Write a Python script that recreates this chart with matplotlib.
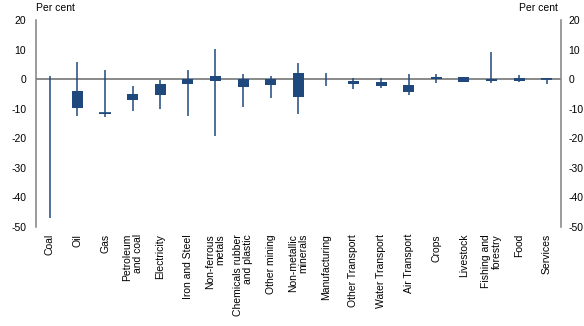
import matplotlib
matplotlib.use("Agg")
import matplotlib.pyplot as plt
import numpy as np

plt.rcParams['font.family'] = ['Liberation Sans', 'DejaVu Sans']
plt.rcParams['axes.unicode_minus'] = False

categories = ["Coal", "Oil", "Gas", "Petroleum\nand coal", "Electricity", "Iron and Steel",
              "Non-ferrous\nmetals", "Chemicals rubber\nand plastic", "Other mining",
              "Non-metallic\nminerals", "Manufacturing", "Other Transport", "Water Transport",
              "Air Transport", "Crops", "Livestock", "Fishing and\nforestry", "Food", "Services"]

whisker_high = [1.2, 5.8, 3.1, -2.3, -0.2, 3.1, 10.3, 1.8, 1.1, 5.5, 2.1, 0.4, 0.4, 1.8, 1.7, 0.9, 9.2, 1.4, 0.4]
whisker_low = [-46.8, -12.3, -12.9, -10.6, -9.9, -12.3, -19.1, -9.3, -6.2, -11.6, -2.4, -3.2, -2.9, -5.3, -1.2, -0.9, -1.2, -0.8, -1.5]
box_high = [0.0, -4.0, -11.3, -5.0, -1.6, 0.0, 1.1, 0.0, 0.0, 2.1, 0.0, -0.6, -0.9, -1.9, 0.9, 0.7, 0.0, 0.4, 0.4]
box_low = [0.0, -9.7, -11.6, -7.0, -5.3, -1.5, -0.5, -2.5, -1.8, -6.0, 0.0, -1.6, -2.3, -4.3, 0.0, -0.8, -0.7, -0.6, 0.0]

yticks = [20, 10, 0, -10, -20, -30, -40, -50]

navy = "#1F497D"
grey = "#808080"

fig = plt.figure(figsize=(5.84, 3.26), dpi=100)
ax = fig.add_axes([36 / 584, 1 - 227 / 326, (560.5 - 36) / 584, (227 - 20.2) / 326])

x = np.arange(len(categories))
ax.vlines(x, whisker_low, whisker_high, color=navy, lw=1.1, zorder=3)
heights = np.array(box_high) - np.array(box_low)
ax.bar(x, heights, bottom=box_low, width=0.4, color=navy, lw=0, zorder=4)
# thin boxes drawn as short lines so they stay visible
for xi, h, lo in zip(x, heights, box_low):
    if 0 < h < 0.5:
        ax.hlines(lo + h / 2, xi - 0.2, xi + 0.2, color=navy, lw=1.2, zorder=4)

ax.axhline(0, color=grey, lw=1.3, zorder=2)

ax.set_xlim(-0.5, len(categories) - 0.5)
ax.set_ylim(-50, 20)
ax.set_yticks(yticks)
ax.tick_params(axis='y', length=0, pad=7, labelsize=7.5)
ax.set_xticks(x)
ax.set_xticklabels(categories, rotation=90, fontsize=7.5, multialignment='right', linespacing=1.05)
ax.tick_params(axis='x', length=0, pad=5)

for s in ['top', 'bottom']:
    ax.spines[s].set_visible(False)
for s in ['left', 'right']:
    ax.spines[s].set_color(grey)
    ax.spines[s].set_linewidth(1.1)

ax2 = ax.twinx()
ax2.set_ylim(-50, 20)
ax2.set_yticks(yticks)
ax2.tick_params(axis='y', length=0, pad=5.5, labelsize=7.5)
for s in ['top', 'bottom', 'left', 'right']:
    ax2.spines[s].set_visible(False)

fig.text(36 / 584, 1 - 8 / 326, "Per cent", fontsize=7.5, ha='left', va='center')
fig.text(558 / 584, 1 - 8 / 326, "Per cent", fontsize=7.5, ha='right', va='center')

fig.savefig("out.png", dpi=100)
